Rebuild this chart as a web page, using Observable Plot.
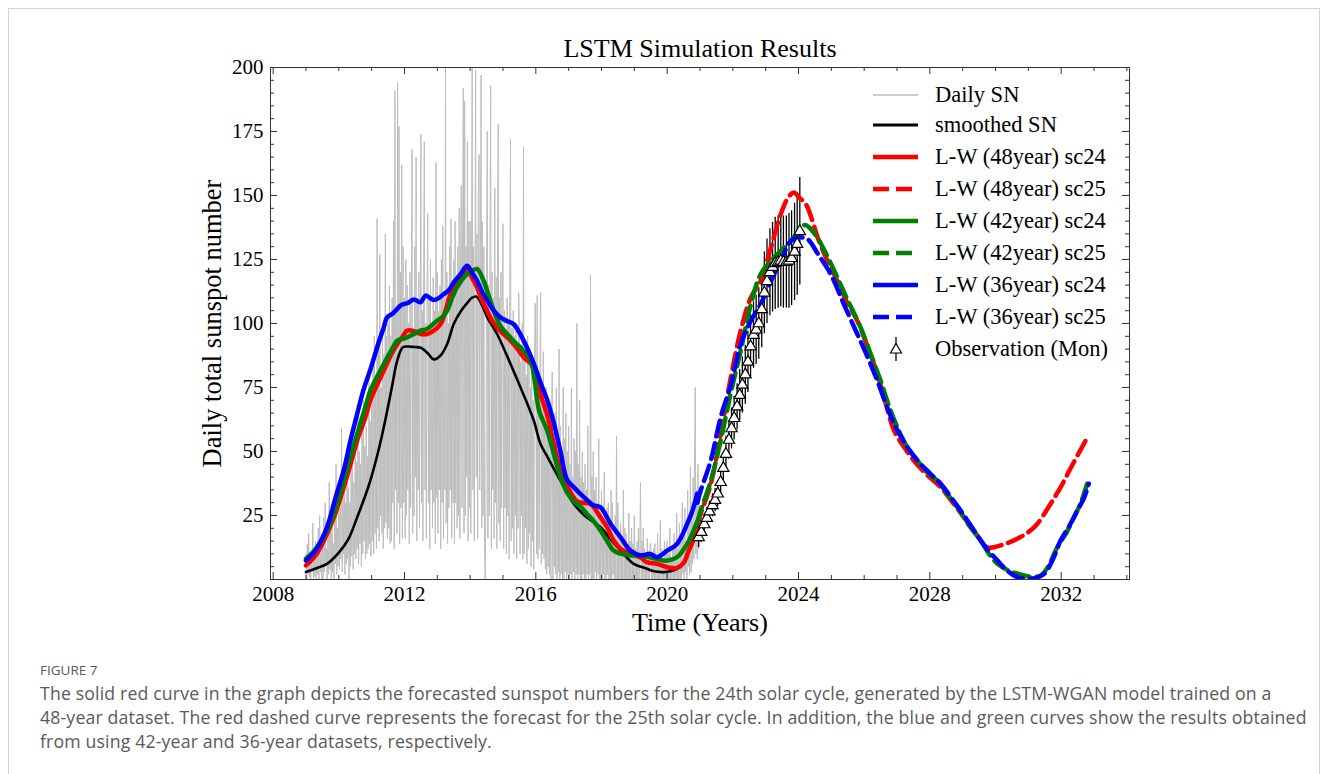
<!DOCTYPE html>
<html><head><meta charset="utf-8">
<script src="https://cdn.jsdelivr.net/npm/d3@7"></script>
<script src="https://cdn.jsdelivr.net/npm/@observablehq/plot@0.6"></script>
<style>
html,body{margin:0;padding:0;background:#fff;}
#page{position:relative;width:1328px;height:774px;overflow:hidden;background:#fff;}
#card{position:absolute;left:8px;top:8px;width:1312px;height:800px;border:1px solid #d4d4d4;box-sizing:border-box;}
#chart{position:absolute;left:0;top:0;}
#legend{position:absolute;left:0;top:0;font-family:"Liberation Serif",serif;font-size:22.5px;color:#000;}
.row{position:absolute;left:872px;height:24px;display:flex;align-items:center;white-space:nowrap;}
.row svg{display:block;margin-right:17px;}
#figlabel{position:absolute;left:40px;top:661px;font-family:"Open Sans",sans-serif;font-size:13.5px;color:#5a5a5a;}
#caption{position:absolute;left:40px;top:681px;width:1280px;font-family:"Open Sans",sans-serif;font-size:17.7px;letter-spacing:0.15px;line-height:24px;color:#5a5a5a;white-space:nowrap;}
</style>
</head>
<body>
<div id="page">
  <div id="card"></div>
  <div id="chart"></div>
  <div id="legend"></div>
  <div id="figlabel">FIGURE 7</div>
  <div id="caption">The solid red curve in the graph depicts the forecasted sunspot numbers for the 24th solar cycle, generated by the LSTM-WGAN model trained on a<br>48-year dataset. The red dashed curve represents the forecast for the 25th solar cycle. In addition, the blue and green curves show the results obtained<br>from using 42-year and 36-year datasets, respectively.</div>
</div>
<script>
// ---------- DATA ----------
const titleText = "LSTM Simulation Results";
const xLabel = "Time (Years)";
const yLabel = "Daily total sunspot number";
const xMajorTicks = [2008, 2012, 2016, 2020, 2024, 2028, 2032];
const xMinorTicks = [2009,2010,2011,2013,2014,2015,2017,2018,2019,2021,2022,2023,2025,2026,2027,2029,2030,2031,2033,2034];
const yMajorTicks = [25, 50, 75, 100, 125, 150, 175, 200];
const yMinorTicks = [5,10,15,20,30,35,40,45,55,60,65,70,80,85,90,95,105,110,115,120,130,135,140,145,155,160,165,170,180,185,190,195];

// Daily SN (sampled every 1/48 year from 2009.0; one row = half a year)
const dailyStart = 2009.0;
const dailyValues = [
  10,0,14,2,18,1,6,0,9,3,22,0,12,1,15,0,8,2,20,0,25,3,11,0,
  18,0,24,3,30,5,12,0,16,2,38,4,22,0,27,3,14,0,33,6,45,2,20,5,
  35,4,28,8,59,3,40,10,42,2,30,6,50,8,36,0,30,5,44,9,48,4,38,10,
  55,8,46,12,66,6,50,14,45,5,58,10,70,15,52,8,60,10,48,12,78,14,62,9,
  70,15,85,10,95,18,80,12,141,20,90,15,127,25,75,18,100,12,88,20,135,22,95,16,
  100,20,115,14,95,15,110,30,140,12,191,35,105,18,194,30,177,14,120,28,162,16,130,30,
  110,16,125,25,115,35,100,14,120,28,105,168,18,95,25,130,40,165,15,110,35,120,20,100,
  174,30,105,15,120,171,35,100,16,115,143,30,110,12,125,35,98,20,118,30,105,14,163,32,
  120,18,105,35,115,12,125,30,138,16,110,35,210,22,120,14,100,28,130,35,141,16,115,30,
  125,14,140,30,118,20,130,25,145,16,120,154,28,135,192,18,187,25,130,40,171,15,140,28,
  140,18,125,205,35,130,15,120,199,40,135,16,150,166,35,125,197,20,140,25,130,14,0,28,
  120,175,16,115,25,130,193,12,120,35,110,16,153,30,118,12,125,178,22,110,15,120,28,105,
  139,12,105,28,95,10,110,25,100,8,120,172,15,98,20,105,10,95,25,100,8,90,20,112,
  95,10,85,25,100,8,169,10,90,20,80,6,95,12,85,18,75,5,88,15,70,4,80,108,
  85,10,111,8,75,12,80,112,6,70,10,89,8,65,4,75,2,60,5,70,2,55,0,62,
  81,0,55,5,65,2,75,0,50,3,90,0,60,2,45,0,75,0,55,3,65,0,50,2,
  60,0,45,2,75,0,40,3,55,0,50,2,100,0,45,2,70,0,40,0,50,2,38,0,
  45,0,35,2,60,0,30,2,119,0,40,0,50,0,35,3,40,0,30,2,55,0,28,0,
  35,0,25,2,42,0,20,0,28,2,30,0,22,0,35,0,30,2,18,0,25,0,56,0,
  30,0,18,0,22,0,15,0,35,0,20,0,18,0,12,0,26,0,15,0,20,0,14,0,
  25,0,12,0,15,0,20,0,10,38,0,15,0,20,0,12,0,8,0,16,0,10,0,14,
  14,0,10,0,12,0,14,0,8,0,18,0,10,0,23,0,12,0,8,0,15,0,10,0,
  15,0,10,0,20,0,8,0,12,0,18,0,14,0,26,0,12,0,22,0,15,0,30,2,
  20,0,28,3,15,0,35,5,25,2,44,3,30,6,40,8,44,75,10,35,8,45,12,30
];

// Smoothed SN
const smoothT = [2009.0,2009.3,2009.64,2010.0,2010.3,2010.56,2010.8,2010.96,2011.2,2011.37,2011.6,2011.78,2011.95,2012.1,2012.3,2012.5,2012.7,2012.89,2013.1,2013.3,2013.5,2013.7,2013.91,2014.05,2014.19,2014.35,2014.52,2014.82,2015.23,2015.6,2015.94,2016.14,2016.35,2016.75,2017.16,2017.5,2017.97,2018.3,2018.58,2018.98,2019.3,2019.6,2019.9,2020.1,2020.3];
const smoothV = [2.9,4.3,6.1,10.5,16,24.3,32.5,38.6,50,59.5,74,85.5,90.7,91,90.8,90.5,88.5,86,87.5,92,99.8,104.5,108,110,110.5,107.5,102.4,95.9,84.2,73,62,53,48,38.6,29.5,24.8,20.4,15.3,11.3,6.1,4.6,3.2,2.9,3.2,4.2];

// L-W (48year) sc24
const red24T = [2009.0,2009.3,2009.64,2009.9,2010.15,2010.4,2010.56,2010.8,2010.96,2011.2,2011.37,2011.6,2011.78,2011.95,2012.08,2012.3,2012.49,2012.69,2012.89,2013.1,2013.25,2013.4,2013.55,2013.71,2013.91,2014.05,2014.21,2014.36,2014.52,2014.67,2014.82,2015.0,2015.23,2015.45,2015.63,2015.94,2016.15,2016.35,2016.55,2016.75,2017.06,2017.26,2017.45,2017.67,2017.97,2018.17,2018.37,2018.58,2018.88,2019.2,2019.38,2019.69,2020.0,2020.3,2020.5,2020.65,2020.8,2020.91];
const red24V = [5.5,9.5,17.8,26,36,47,54.3,63,69.9,77,81.6,88,92,95,97.2,97,95.9,95.9,97.2,99.8,105,111.5,115,118,121.3,118,114.1,109,105,101,98.5,96,93.3,90,86.8,82.9,72,64,53,43,34,30.5,30,29.5,24.3,20.4,15.2,12,10,8.5,6.8,6.1,4.8,4.5,6.5,11,15.5,20.4];

// L-W (42year) sc24
const green24T = [2009.0,2009.3,2009.64,2009.9,2010.15,2010.4,2010.56,2010.8,2010.96,2011.2,2011.37,2011.6,2011.78,2011.95,2012.08,2012.3,2012.49,2012.69,2012.99,2013.15,2013.3,2013.45,2013.6,2013.75,2013.91,2014.05,2014.21,2014.41,2014.56,2014.72,2014.92,2015.13,2015.33,2015.53,2015.84,2016.1,2016.35,2016.55,2016.75,2016.95,2017.16,2017.36,2017.56,2017.75,2017.97,2018.17,2018.37,2018.6,2018.9,2019.19,2019.5,2019.8,2020.0,2020.3,2020.61,2020.8,2020.91];
const green24V = [8.1,12,19.1,28,38.6,50,56.9,67,73.8,80,84.2,89.5,93.3,94,94.6,96,97.2,97.9,101.1,102.5,105,110,114.1,117,119.3,120.5,121.3,116.7,111,105,99,95.9,93,90.7,85.5,66,58,49,40,34,30.5,28.5,25.5,23,19.1,15,11.3,10,9.4,9.4,8.6,7.6,7.4,8.7,13.9,19,22.4];

// L-W (36year) sc24
const blue24T = [2009.0,2009.3,2009.64,2009.9,2010.15,2010.35,2010.56,2010.75,2010.96,2011.2,2011.37,2011.47,2011.65,2011.88,2011.98,2012.1,2012.28,2012.49,2012.64,2012.89,2013.05,2013.2,2013.35,2013.5,2013.71,2013.91,2014.05,2014.21,2014.36,2014.52,2014.72,2014.92,2015.12,2015.32,2015.63,2015.94,2016.14,2016.35,2016.55,2016.75,2016.95,2017.16,2017.47,2017.77,2017.97,2018.28,2018.58,2018.88,2019.19,2019.49,2019.69,2020.0,2020.3,2020.61,2020.8,2020.91];
const blue24V = [7.4,11.5,20.4,32,42.6,54,64.7,74,82,92,98.5,102.4,104,107,107.6,108,109.4,108.3,110.9,109.2,110,111.5,113,116.1,119.3,122.6,120,116.7,112.5,108.9,105,102.4,101,99.8,93.3,84.2,77,70,61,50,39,36,32.1,28.9,28.2,21.7,16.5,11.3,9.4,10,8.7,11.3,13.9,21.7,28,33.5];

// L-W (48year) sc25
const red25T = [2020.92,2021.02,2021.33,2021.63,2021.94,2022.24,2022.55,2022.85,2023.16,2023.46,2023.7,2023.86,2024.0,2024.22,2024.39,2024.6,2024.88,2025.18,2025.45,2025.79,2026.1,2026.4,2026.65,2026.91,2027.2,2027.51,2027.9,2028.33,2028.7,2029.04,2029.4,2029.75,2030.2,2030.66,2031.0,2031.27,2031.6,2031.98,2032.35,2032.69,2032.82];
const red25V = [21,25.6,37.4,56.9,79,97.2,110.2,116.7,129.7,142.8,149.5,151.2,149.5,146.7,141.4,133,124.5,116.7,109,101.1,91,80.3,69,58.2,52,46.5,41,36,30,24.3,18,12.6,13.5,15.9,18.5,21.7,28,36,45,53,56];

// L-W (42year) sc25
const green25T = [2020.92,2021.02,2021.33,2021.63,2021.94,2022.24,2022.55,2022.85,2023.16,2023.46,2023.77,2024.0,2024.2,2024.4,2024.57,2024.85,2025.18,2025.5,2025.89,2026.2,2026.5,2026.75,2027.01,2027.3,2027.62,2027.9,2028.23,2028.5,2028.84,2029.2,2029.55,2029.8,2030.06,2030.4,2030.87,2031.15,2031.38,2031.6,2031.88,2032.15,2032.39,2032.6,2032.79];
const green25V = [22.4,26.9,38.6,54.3,73,89.4,107.6,119.3,124.5,128.4,132.3,136,138.5,136.5,133.6,127,118,109,98.5,88,77.7,68,59.5,52,46.5,42,38.6,34,28.2,21,15.2,10,6.1,3.5,1.6,1,1.6,5,12.6,18,24.3,30,37.4];

// L-W (36year) sc25
const blue25T = [2020.92,2021.02,2021.33,2021.63,2021.94,2022.24,2022.55,2022.85,2023.16,2023.46,2023.77,2024.0,2024.27,2024.6,2024.98,2025.4,2025.79,2026.1,2026.4,2026.65,2026.91,2027.25,2027.62,2028.0,2028.33,2028.65,2028.94,2029.25,2029.55,2029.8,2030.06,2030.35,2030.66,2031.07,2031.48,2031.75,2031.98,2032.25,2032.49,2032.7,2032.84];
const blue25V = [30,34.7,46.5,63.4,76,92,101.1,107.6,116.7,124.5,132.3,133.6,133,127,119.3,107,95.9,87,77.7,69,60.8,53,46.5,41.5,37.4,32,26.9,21,15.2,11,7.4,3.5,0.9,0.3,2.2,8,15.2,21,26.9,32,37.4];

// Observation (monthly) with error
const obsT = [2020.96,2021.04,2021.13,2021.21,2021.29,2021.38,2021.46,2021.54,2021.63,2021.71,2021.79,2021.88,2021.96,2022.04,2022.13,2022.21,2022.29,2022.38,2022.46,2022.54,2022.63,2022.71,2022.79,2022.88,2022.96,2023.04,2023.13,2023.21,2023.29,2023.38,2023.46,2023.54,2023.63,2023.71,2023.79,2023.88,2023.96,2024.04];
const obsV = [16.5,18.5,21.5,24,26.5,29,31,33.5,38,43.5,49,54.5,59,63,67.5,72,76,80,85,91,95.5,97.5,100,105.5,112,116.5,120,122,123.5,124,124.5,124,124,124.5,125.5,128,131,136];
const obsE = [4,4,4,4,4,4.5,4.5,5,5.5,6,7,7.5,8,8.5,9,10,11,11.5,12,12.5,13,13.5,14,15,16,16.5,17,17.5,18,18,18,18,18,18.5,18.5,19,20,21];

// ---------- BUILD ----------
const zip = (T, V) => T.map((t, i) => ({t, v: V[i]}));
const daily = dailyValues.map((v, i) => ({t: dailyStart + i / 48, v}));
const smooth = zip(smoothT, smoothV);
const red24 = zip(red24T, red24V), red25 = zip(red25T, red25V);
const green24 = zip(green24T, green24V), green25 = zip(green25T, green25V);
const blue24 = zip(blue24T, blue24V), blue25 = zip(blue25T, blue25V);
const obs = obsT.map((t, i) => ({t, v: obsV[i], e: obsE[i]}));

const W = 1328, H = 650, ML = 270, MR = 199, MT = 67, MB = 71;
const FW = W - ML - MR, FH = H - MT - MB;
const RED = "#ff0000", GREEN = "#008000", BLUE = "#0000ff", GREY = "#bdbdbd";
const LW = 4.5, DASH = "16,7";
const serif = "Liberation Serif";

const curveLine = (data, stroke, dashed) => Plot.line(data, {
  x: "t", y: "v", stroke, strokeWidth: LW, curve: "catmull-rom", clip: true,
  strokeLinejoin: "round", strokeDasharray: dashed ? DASH : null
});

const chart = Plot.plot({
  width: W, height: H,
  marginLeft: ML, marginRight: MR, marginTop: MT, marginBottom: MB,
  x: {domain: [2007.92, 2034.08], axis: null},
  y: {domain: [0, 200], axis: null},
  style: {fontFamily: serif, background: "transparent", color: "#000", overflow: "visible"},
  marks: [
    Plot.line(daily, {x: "t", y: "v", stroke: GREY, strokeWidth: 1, clip: true}),
    Plot.line(smooth, {x: "t", y: "v", stroke: "#000", strokeWidth: 2.6, curve: "catmull-rom", clip: true}),
    Plot.ruleX(obs, {x: "t", y1: d => d.v - d.e, y2: d => d.v + d.e, stroke: "#000", strokeWidth: 1.3}),
    curveLine(red24, RED, false),
    curveLine(red25, RED, true),
    curveLine(green24, GREEN, false),
    curveLine(green25, GREEN, true),
    curveLine(blue24, BLUE, false),
    curveLine(blue25, BLUE, true),
    Plot.dot(obs, {x: "t", y: "v", symbol: "triangle", r: 4.2, fill: "#fff", stroke: "#000", strokeWidth: 1.2}),
    // inward ticks on all sides
    Plot.tickX(xMajorTicks, {x: d => d, insetTop: FH - 7, stroke: "#333"}),
    Plot.tickX(xMajorTicks, {x: d => d, insetBottom: FH - 7, stroke: "#333"}),
    Plot.tickX(xMinorTicks, {x: d => d, insetTop: FH - 4, stroke: "#333"}),
    Plot.tickX(xMinorTicks, {x: d => d, insetBottom: FH - 4, stroke: "#333"}),
    Plot.tickY(yMajorTicks, {y: d => d, insetRight: FW - 7, stroke: "#333"}),
    Plot.tickY(yMajorTicks, {y: d => d, insetLeft: FW - 7, stroke: "#333"}),
    Plot.tickY(yMinorTicks, {y: d => d, insetRight: FW - 4, stroke: "#333"}),
    Plot.tickY(yMinorTicks, {y: d => d, insetLeft: FW - 4, stroke: "#333"}),
    Plot.frame({stroke: "#333", strokeWidth: 1}),
    // tick labels
    Plot.axisX(xMajorTicks, {anchor: "bottom", tickSize: 0, tickPadding: 7, fontSize: 21, tickFormat: d => String(d), label: null}),
    Plot.axisY(yMajorTicks, {anchor: "left", tickSize: 0, tickPadding: 7, fontSize: 21, tickFormat: d => String(d), label: null}),
    // titles
    Plot.text([titleText], {text: d => d, frameAnchor: "top", lineAnchor: "middle", textAnchor: "middle", dy: -19, fontSize: 26}),
    Plot.text([xLabel], {text: d => d, frameAnchor: "bottom", lineAnchor: "middle", textAnchor: "middle", dy: 43, fontSize: 26}),
    Plot.text([yLabel], {text: d => d, frameAnchor: "left", lineAnchor: "middle", textAnchor: "middle", dx: -58, rotate: -90, fontSize: 26.5})
  ]
});
document.getElementById("chart").appendChild(chart);

// ---------- LEGEND ----------
const legendItems = [
  {label: "Daily SN", stroke: GREY, width: 1.5, dash: null, cy: 95},
  {label: "smoothed SN", stroke: "#000", width: 3, dash: null, cy: 125},
  {label: "L-W (48year) sc24", stroke: RED, width: LW, dash: null, cy: 156.5},
  {label: "L-W (48year) sc25", stroke: RED, width: LW, dash: DASH, cy: 188.5},
  {label: "L-W (42year) sc24", stroke: GREEN, width: LW, dash: null, cy: 220.5},
  {label: "L-W (42year) sc25", stroke: GREEN, width: LW, dash: DASH, cy: 252.5},
  {label: "L-W (36year) sc24", stroke: BLUE, width: LW, dash: null, cy: 285},
  {label: "L-W (36year) sc25", stroke: BLUE, width: LW, dash: DASH, cy: 317},
  {label: "Observation (Mon)", marker: true, cy: 349}
];
const leg = document.getElementById("legend");
for (const it of legendItems) {
  const row = document.createElement("div");
  row.className = "row";
  row.style.top = (it.cy - 12) + "px";
  let sample;
  if (it.marker) {
    sample = `<svg width="46" height="24"><line x1="24" x2="24" y1="0" y2="24" stroke="#000" stroke-width="1.3"/><path d="M24,6.5 L29.5,16 L18.5,16 Z" fill="#fff" stroke="#000" stroke-width="1.2"/></svg>`;
  } else {
    sample = `<svg width="46" height="24"><line x1="1" x2="46" y1="12" y2="12" stroke="${it.stroke}" stroke-width="${it.width}" ${it.dash ? `stroke-dasharray="${it.dash}"` : ""}/></svg>`;
  }
  row.innerHTML = sample + `<span>${it.label}</span>`;
  leg.appendChild(row);
}
</script>
</body></html>
